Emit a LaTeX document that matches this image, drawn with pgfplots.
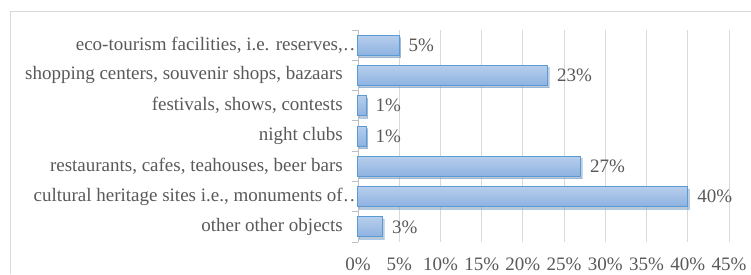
\documentclass[border=0pt]{standalone}
\usepackage{fontspec}
\setmainfont{Liberation Serif}
\usepackage{pgfplots}
\pgfplotsset{compat=1.18}
\usetikzlibrary{shadows}
\definecolor{framegray}{HTML}{D9D9D9}
\definecolor{gridgray}{HTML}{D9D9D9}
\definecolor{axisgray}{HTML}{BFBFBF}
\definecolor{textgray}{HTML}{595959}
\definecolor{bartop}{HTML}{B7CEEB}
\definecolor{barbottom}{HTML}{8DB2E1}
\definecolor{barborder}{HTML}{5B9BD5}
\begin{document}
\fontsize{19}{22}\selectfont
\begin{tikzpicture}[x=1pt,y=1pt]
\begin{axis}[
  at={(0,0)}, anchor=south west,
  scale only axis, width=371pt, height=212pt,
  xmin=0, xmax=45, ymin=-0.5, ymax=6.5,
  y dir=reverse,
  xbar, bar width=20pt, bar shift=0pt,
  axis y line*=left, axis x line*=bottom,
  x axis line style={draw=none},
  y axis line style={draw=axisgray, line width=0.8pt},
  xtick={0,5,...,45},
  xticklabel={\pgfmathprintnumber{\tick}\%},
  xtick style={draw=none},
  ytick={0,...,6},
  yticklabels={{eco-tourism facilities, i.e. reserves,\rlap{…}},
    {shopping centers, souvenir shops, bazaars},
    {festivals, shows, contests},
    {night clubs},
    {restaurants, cafes, teahouses, beer bars},
    {cultural heritage sites i.e., monuments of\rlap{…}},
    {other other objects}},
  ytick style={draw=none},
  minor ytick={-0.5,0.5,...,6.5},
  minor y tick style={draw=axisgray, line width=0.8pt},
  tick align=outside, minor tick length=6pt, major tick length=0pt,
  xmajorgrids, major grid style={gridgray, line width=0.8pt},
  /pgf/number format/assume math mode=true,
  tick label style={text=textgray},
  yticklabel style={inner sep=0pt, xshift=-15pt},
  xticklabel style={inner sep=0pt, yshift=-16pt},
  nodes near coords={\pgfmathprintnumber{\pgfplotspointmeta}\%},
  nodes near coords style={text=textgray, anchor=west, inner sep=0pt, xshift=9pt},
  point meta=x,
  clip=false,
  mybar/.style={draw=barborder, line width=1pt, top color=bartop, bottom color=barbottom,
    drop shadow={shadow xshift=1.5pt, shadow yshift=-2.5pt, opacity=0.35}},
]
\addplot[mybar] coordinates {(5,0)};
\addplot[mybar] coordinates {(23,1)};
\addplot[mybar] coordinates {(1,2)};
\addplot[mybar] coordinates {(1,3)};
\addplot[mybar] coordinates {(27,4)};
\addplot[mybar] coordinates {(40,5)};
\addplot[mybar] coordinates {(3,6)};
\end{axis}
\pgfresetboundingbox
\useasboundingbox (-358,-32) rectangle (393,242);
\draw[framegray, line width=1pt] (-347.5,-32) -- (-347.5,230.5) -- (393,230.5);
\end{tikzpicture}
\end{document}
